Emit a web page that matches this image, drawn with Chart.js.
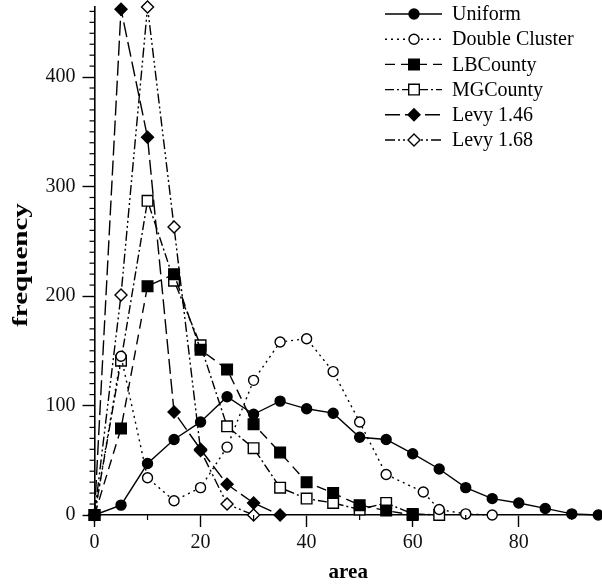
<!DOCTYPE html>
<html>
<head>
<meta charset="utf-8">
<script src="https://cdn.jsdelivr.net/npm/chart.js@4.4.0/dist/chart.umd.min.js"></script>
<style>
html,body{margin:0;padding:0;background:#fff}
</style>
</head>
<body>
<canvas id="mychart" width="602" height="586"></canvas>
<script>
// values
var areas     = [0,5,10,15,20,25,30,35,40,45,50,55,60,65,70,75,80,85,90,95]
var uniform   = [0,9,47,69,85,108,92,104,97,93,71,69,56,42,25,15,11,6,1,0]
var dcAreas   = [0,5,10,15,20,25,30,35,40,45,50,55,62,65,70,75]
var dcluster  = [0,145,34,13,25,62,123,158,161,131,85,37,21,5,1,0]
var lbAreas   = [0,5,10,15,20,25,30,35,40,45,50,55,60]
var lbcounty  = [0,79,209,220,151,133,83,57,30,20,9,4,0]
var mgAreas   = [0,5,10,15,20,25,30,35,40,45,50,55,60,65]
var mgcounty  = [0,141,287,214,155,81,61,25,15,11,5,11,1,0]
var l146Areas = [0,5,10,15,20,25,30,35]
var levy146   = [0,462,345,94,60,28,11,0]
var l168Areas = [0,5,10,15,20,25,30]
var levy168   = [0,201,464,263,59,10,0]

var xTicks = [0,20,40,60,80]
var yTicks = [0,100,200,300,400]

function pts(xs,ys){
  var out=[]
  for(var i=0;i<xs.length;i++) out.push({x:xs[i],y:ys[i]})
  return out
}

Chart.defaults.font.family = "'Liberation Serif','Times New Roman',serif"
Chart.defaults.color = '#111'

function series(label,xs,ys,dash,style,fill,rad){
  return {
    label:label,
    data:pts(xs,ys),
    borderColor:'#000',
    borderWidth:1.4,
    borderDash:dash,
    pointStyle:style,
    pointRadius:rad,
    pointBackgroundColor:fill,
    pointBorderColor:'#000',
    pointBorderWidth:1.4,
    tension:0,
    clip:false
  }
}

var minorTicks = {
  id:'minorTicks',
  afterDraw:function(chart){
    var ctx=chart.ctx, xs=chart.scales.x, ys=chart.scales.y, a=chart.chartArea
    ctx.save()
    ctx.strokeStyle='#000'
    ctx.lineWidth=1.2
    for(var v=10; v<=ys.max; v+=10){
      if(v%100===0) continue
      var p=ys.getPixelForValue(v)
      ctx.beginPath(); ctx.moveTo(a.left-5,p); ctx.lineTo(a.left,p); ctx.stroke()
    }
    for(var u=10; u<=xs.max; u+=20){
      var q=xs.getPixelForValue(u)
      ctx.beginPath(); ctx.moveTo(q,a.bottom); ctx.lineTo(q,a.bottom+5); ctx.stroke()
    }
    // y axis title, drawn wide like the original
    ctx.fillStyle='#000'
    ctx.font="bold 22px 'Liberation Serif'"
    ctx.textAlign='center'
    ctx.textBaseline='middle'
    ctx.translate(21,(a.top+a.bottom)/2+4)
    ctx.rotate(-Math.PI/2)
    ctx.scale(1.32,1)
    ctx.fillText('frequency',0,0)
    ctx.restore()
  }
}

var sideLegend = {
  id:'sideLegend',
  afterDraw:function(chart){
    var ctx=chart.ctx
    chart.data.datasets.forEach(function(ds,i){
      var y=14+i*25.2
      ctx.save()
      ctx.strokeStyle='#000'
      ctx.lineWidth=ds.borderWidth
      ctx.setLineDash(ds.borderDash)
      ctx.beginPath(); ctx.moveTo(385,y); ctx.lineTo(442,y); ctx.stroke()
      ctx.setLineDash([])
      ctx.fillStyle=ds.pointBackgroundColor
      ctx.lineWidth=ds.pointBorderWidth
      Chart.helpers.drawPoint(ctx,{pointStyle:ds.pointStyle,radius:ds.pointRadius,borderWidth:ds.pointBorderWidth,rotation:0},414,y)
      ctx.fillStyle='#000'
      ctx.font="20px 'Liberation Serif'"
      ctx.textBaseline='middle'
      ctx.fillText(ds.label,452,y+1)
      ctx.restore()
    })
  }
}

var mychart=document.getElementById('mychart').getContext('2d')
var chart=new Chart(mychart,{
  type:'line',
  data:{
    datasets:[
      series('Uniform',areas,uniform,[],'circle','#000',5),
      series('Double Cluster',dcAreas,dcluster,[2,4],'circle','#fff',5),
      series('LBCounty',lbAreas,lbcounty,[10,6],'rect','#000',7.5),
      series('MGCounty',mgAreas,mgcounty,[9,3,2,3],'rect','#fff',7.5),
      series('Levy 1.46',l146Areas,levy146,[15,5],'rectRot','#000',6),
      series('Levy 1.68',l168Areas,levy168,[10,3,2,3,2,3],'rectRot','#fff',6)
    ]
  },
  options:{
    responsive:false,
    animation:false,
    layout:{autoPadding:false,padding:{top:7,right:0,left:0,bottom:0}},
    plugins:{legend:{display:false},tooltip:{enabled:false}},
    scales:{
      x:{
        type:'linear',
        min:0,max:95.7,
        afterBuildTicks:function(s){ s.ticks=xTicks.map(function(v){return {value:v}}) },
        afterFit:function(s){ s.height=71; s.paddingLeft=0; s.paddingRight=0 },
        grid:{drawOnChartArea:false,drawTicks:true,tickLength:12,tickWidth:1.4,tickColor:'#000'},
        border:{display:true,color:'#000',width:1.6},
        ticks:{font:{size:20},padding:4,maxRotation:0,autoSkip:false},
        title:{display:true,text:'area',font:{size:21,weight:'bold'},color:'#000',padding:{top:0,bottom:1}}
      },
      y:{
        type:'linear',
        min:0,max:464,
        afterBuildTicks:function(s){ s.ticks=yTicks.map(function(v){return {value:v}}) },
        afterFit:function(s){ s.width=94.5; s.paddingTop=0; s.paddingBottom=0 },
        grid:{drawOnChartArea:false,drawTicks:true,tickLength:12,tickWidth:1.4,tickColor:'#000'},
        border:{display:true,color:'#000',width:1.6},
        ticks:{font:{size:20},padding:7,autoSkip:false},
        title:{display:false}
      }
    }
  },
  plugins:[minorTicks,sideLegend]
})
</script>
</body>
</html>
